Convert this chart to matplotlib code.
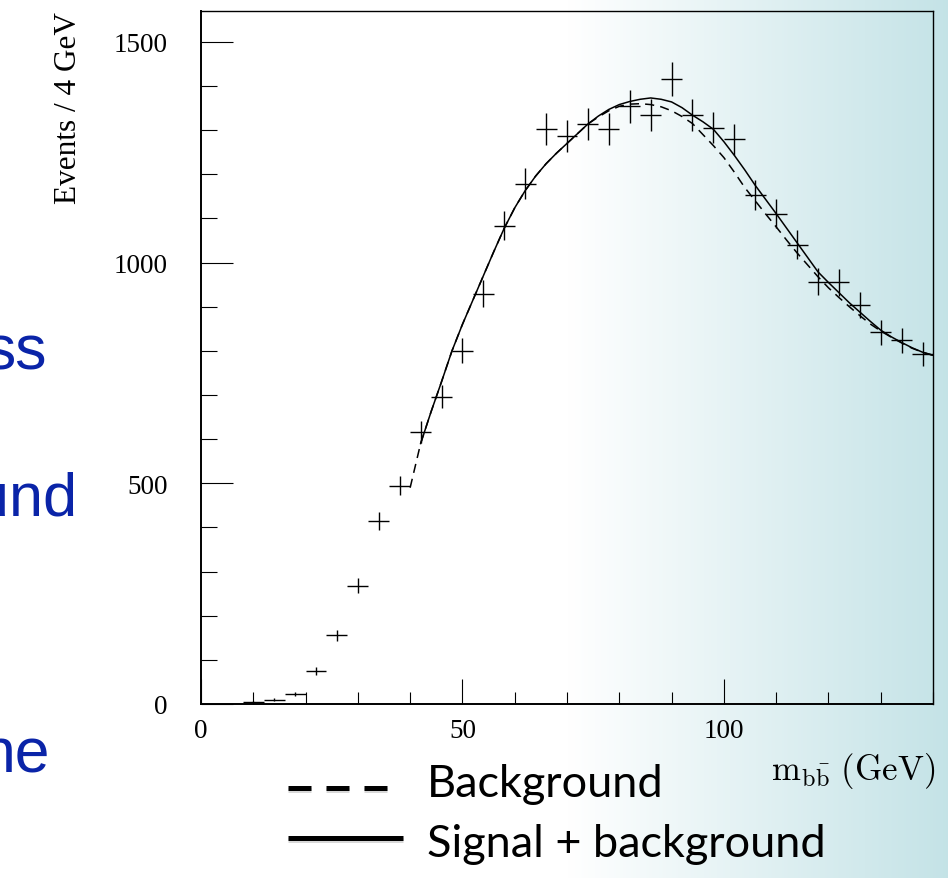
import numpy as np
import matplotlib
matplotlib.use('Agg')
import matplotlib.pyplot as plt
from matplotlib.lines import Line2D
from matplotlib.ticker import MultipleLocator
import matplotlib.patheffects as pe

plt.rcParams['mathtext.fontset'] = 'cm'

# ------------------------------
# data
# ------------------------------
bin_centers = [10, 14, 18, 22, 26, 30, 34, 38, 42, 46, 50, 54, 58, 62, 66, 70, 74,
               78, 82, 86, 90, 94, 98, 102, 106, 110, 114, 118, 122, 126, 130, 134, 138]
counts = [5, 10, 22, 75, 156, 268, 415, 495, 617, 696, 800, 929, 1084, 1179, 1302,
          1287, 1315, 1302, 1354, 1335, 1416, 1334, 1306, 1279, 1154, 1111, 1041,
          957, 955, 904, 842, 824, 793]

# signal + background fit
sb_x = [42, 44, 46, 48, 50, 52, 54, 56, 58, 60, 62, 64, 66, 68, 70, 72, 74, 76, 78,
        80, 82, 84, 86, 88, 90, 92, 94, 96, 98, 100, 102, 104, 106, 108, 110, 112,
        114, 116, 118, 120, 122, 124, 126, 128, 130, 132, 134, 136, 138, 140]
sb_y = [590, 662, 730, 800, 860, 915, 970, 1025, 1078, 1124, 1163, 1196, 1224, 1248,
        1270, 1292, 1314, 1332, 1347, 1358, 1365, 1370, 1373, 1370, 1364, 1351, 1334,
        1319, 1302, 1274, 1243, 1210, 1175, 1143, 1111, 1078, 1045, 1012, 979, 955,
        932, 909, 888, 867, 847, 832, 819, 807, 797, 790]

# background only
bg_x = [40, 42, 44, 46, 48, 50, 52, 54, 56, 58, 60, 62, 64, 66, 68, 70, 72, 74, 76,
        78, 80, 82, 84, 86, 88, 90, 92, 94, 96, 98, 100, 102, 104, 106, 108, 110, 112,
        114, 116, 118, 120, 122, 124, 126, 128, 130, 132, 134, 136, 138, 140]
bg_y = [490, 590, 662, 730, 800, 860, 915, 970, 1025, 1078, 1124, 1163, 1196, 1224,
        1248, 1270, 1292, 1314, 1330, 1344, 1354, 1359, 1360, 1358, 1353, 1344, 1331,
        1315, 1290, 1265, 1238, 1205, 1170, 1140, 1110, 1081, 1051, 1022, 995, 968,
        943, 921, 900, 880, 861, 845, 831, 818, 806, 797, 790]

bin_half = 2  # 4 GeV bins

W, H = 948, 879
fig = plt.figure(figsize=(W / 100, H / 100), dpi=100)

# slide background: white fading to light teal on the right
bg = fig.add_axes([0, 0, 1, 1], zorder=-10)
xx = np.linspace(0, 1, 400)
t = np.clip((xx - 0.60) / 0.40, 0, 1)
end = np.array([0.77, 0.89, 0.905])
cols = (1 - t)[:, None] * np.ones(3) + t[:, None] * end
bg.imshow(cols[None, :, :], aspect='auto', extent=[0, 1, 0, 1])
bg.axis('off')

# cut-off slide text on the left (the slide's words run past the crop)
blue = '#0a24a8'
fig.text(47 / W, 1 - 370 / H, 'ss', color=blue, fontsize=45, family='Liberation Sans',
         ha='right', va='baseline')
fig.text(77 / W, 1 - 515 / H, 'und', color=blue, fontsize=44, family='Liberation Sans',
         ha='right', va='baseline')
fig.text(50 / W, 1 - 773 / H, 'ne', color=blue, fontsize=45, family='Liberation Sans',
         ha='right', va='baseline')

# ------------------------------
# main plot
# ------------------------------
ax = fig.add_axes([201 / W, 1 - 705 / H, 732 / W, 693 / H])
ax.patch.set_alpha(0)

ax.errorbar(bin_centers, counts, xerr=bin_half, yerr=np.sqrt(counts), fmt='none',
            ecolor='black', elinewidth=1.0, capsize=0)
ax.plot(bg_x, bg_y, color='black', lw=1.1, ls='--', dashes=(6, 4))
ax.plot(sb_x, sb_y, color='black', lw=1.1)

ax.set_xlim(0, 140)
ax.set_ylim(0, 1570)
ax.set_xticks([0, 50, 100])
ax.set_yticks([0, 500, 1000, 1500])
ax.xaxis.set_minor_locator(MultipleLocator(10))
ax.yaxis.set_minor_locator(MultipleLocator(100))

ax.tick_params(axis='y', which='major', direction='in', length=23, width=0.8, pad=24,
               labelsize=19.5)
ax.tick_params(axis='y', which='minor', direction='in', length=11.5, width=0.8)
ax.tick_params(axis='x', which='major', direction='in', length=18, width=0.8, pad=10,
               labelsize=19.5)
ax.tick_params(axis='x', which='minor', direction='in', length=9, width=0.8)
for lab in ax.get_xticklabels() + ax.get_yticklabels():
    lab.set_family('Liberation Serif')

for s in ['left', 'bottom']:
    ax.spines[s].set_linewidth(1.4)
for s in ['top', 'right']:
    ax.spines[s].set_linewidth(1.0)

ax.set_ylabel('Events / 4 GeV', loc='top', fontsize=22.5, family='Liberation Serif')
ax.yaxis.set_label_coords(-0.161, 1.0)
ax.set_xlabel(r'$\mathrm{m_{b\bar{b}}\ (GeV)}$', loc='right', fontsize=25)
ax.xaxis.set_label_coords(1.003, -0.066)

# ------------------------------
# legend drawn on the slide
# ------------------------------
shadow = [pe.SimpleLineShadow(offset=(0.3, -1.5), shadow_color='gray', alpha=0.3),
          pe.Normal()]
y1 = 1 - 789 / H
y2 = 1 - 839 / H
fig.add_artist(Line2D([288 / W, 389 / W], [y1, y1], color='black', lw=3.6,
                      dashes=(4.6, 3.0), dash_capstyle='butt', path_effects=shadow))
fig.add_artist(Line2D([288 / W, 403 / W], [y2, y2], color='black', lw=3.6,
                      solid_capstyle='butt', path_effects=shadow))
fig.text(427 / W, 1 - 797 / H, 'Background', fontsize=32.5, family='Lato',
         ha='left', va='baseline')
fig.text(427 / W, 1 - 857 / H, 'Signal + background', fontsize=32.5, family='Lato',
         ha='left', va='baseline')

fig.savefig('out.png', dpi=100)
